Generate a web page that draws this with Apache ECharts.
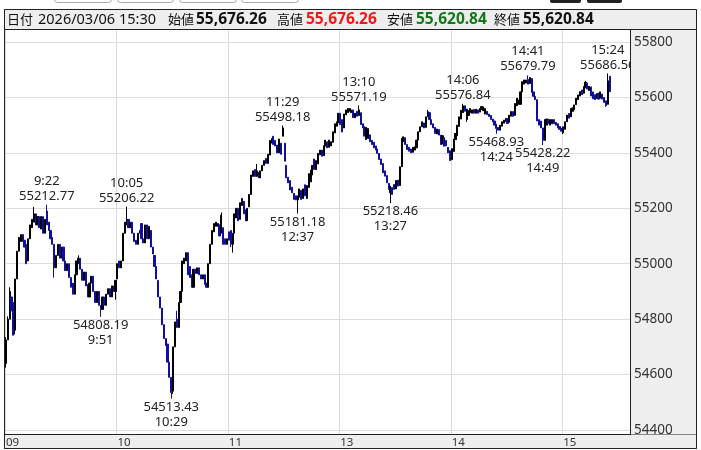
<html lang="ja">

<head>
  <meta charset="utf-8">
  <title>Nikkei 1min</title>
  <style>
    html, body { margin: 0; padding: 0; background: #fff; }
    #chart { width: 701px; height: 450px; }
  </style>
</head>

<body>
  <div id="chart"></div>
</body>

<script src="https://cdn.jsdelivr.net/npm/echarts@6/dist/echarts.min.js"></script>

<script>

  var FONT = '"Noto Sans", "Noto Sans CJK JP", sans-serif';
  var tradeDate = '2026/03/06';

  // 1 minute bars: 9:00-11:29, 12:30-15:24, closing bar 15:30
  var opens = [
    54640, 54725, 54800, 54880, 54860, 54760, 54945, 55045, 55080, 55105,
    55085, 55070, 55010, 55090, 55130, 55150, 55180, 55140, 55170, 55125,
    55170, 55110, 55190, 55150, 55120, 55095, 55070, 54985, 55030, 55070,
    55020, 55060, 55010, 54975, 55000, 54950, 54930, 54890, 54960, 55000,
    55020, 54980, 54940, 54970, 54925, 54880, 54930, 54955, 54900, 54860,
    54900, 54850, 54835, 54880, 54850, 54890, 54910, 54880, 54920, 54900,
    54945, 55010, 54985, 55010, 55110, 55140, 55160, 55130, 55150, 55110,
    55085, 55070, 55110, 55145, 55090, 55075, 55140, 55090, 55120, 55060,
    55030, 54990, 54940, 54880, 54840, 54780, 54730, 54710, 54645, 54590,
    54540, 54700, 54800, 54770, 54860, 54900, 55000, 55010, 55040, 54990,
    54960, 54915, 54980, 54965, 54985, 54960, 54945, 54960, 54930, 54915,
    55000, 55070, 55115, 55135, 55135, 55140, 55110, 55130, 55090, 55070,
    55115, 55120, 55070, 55110, 55165, 55200, 55160, 55210, 55225, 55195,
    55155, 55205, 55250, 55315, 55340, 55315, 55330, 55310, 55335, 55355,
    55380, 55362, 55392, 55435, 55460, 55445, 55428, 55400, 55435, 55460,
    55435, 55355, 55312, 55300, 55276, 55254, 55245, 55230, 55240, 55265,
    55235, 55285, 55235, 55275, 55295, 55320, 55378, 55340, 55360, 55393,
    55410, 55390, 55424, 55440, 55420, 55425, 55438, 55472, 55496, 55508,
    55543, 55520, 55490, 55537, 55545, 55550, 55545, 55555, 55527, 55550,
    55535, 55545, 55505, 55495, 55448, 55452, 55465, 55445, 55438, 55425,
    55414, 55398, 55378, 55362, 55335, 55318, 55290, 55256, 55275, 55286,
    55270, 55302, 55282, 55350, 55440, 55455, 55430, 55420, 55414, 55402,
    55410, 55418, 55446, 55476, 55494, 55508, 55492, 55530, 55545, 55520,
    55505, 55492, 55468, 55484, 55464, 55432, 55455, 55445, 55420, 55408,
    55375, 55405, 55448, 55462, 55495, 55522, 55545, 55570, 55520, 55535,
    55545, 55543, 55557, 55543, 55555, 55547, 55556, 55552, 55540, 55550,
    55540, 55535, 55522, 55515, 55504, 55492, 55482, 55496, 55507, 55513,
    55524, 55510, 55532, 55549, 55535, 55570, 55575, 55575, 55620, 55648,
    55652, 55665, 55650, 55668, 55620, 55604, 55592, 55520, 55515, 55490,
    55445, 55500, 55522, 55500, 55505, 55520, 55510, 55505, 55495, 55490,
    55472, 55485, 55512, 55542, 55530, 55550, 55556, 55574, 55592, 55605,
    55627, 55615, 55635, 55652, 55625, 55638, 55620, 55610, 55596, 55615,
    55597, 55612, 55600, 55588, 55575, 55676.26
  ];

  var closes = [
    54725, 54800, 54900, 54830, 54742, 54945, 55045, 55095, 55105, 55080,
    55060, 55000, 55090, 55140, 55160, 55180, 55140, 55170, 55130, 55170,
    55110, 55160, 55140, 55120, 55090, 55070, 54985, 55030, 55070, 55020,
    55060, 55010, 54975, 55000, 54950, 54915, 54890, 54960, 55010, 55020,
    54980, 54940, 54970, 54920, 54880, 54930, 54955, 54900, 54860, 54900,
    54850, 54835, 54880, 54850, 54890, 54910, 54880, 54920, 54900, 54940,
    55000, 54985, 55010, 55110, 55150, 55160, 55130, 55150, 55110, 55080,
    55070, 55110, 55120, 55090, 55075, 55140, 55090, 55135, 55060, 55035,
    54990, 54945, 54880, 54840, 54780, 54730, 54705, 54645, 54590, 54535,
    54700, 54790, 54770, 54860, 54900, 55010, 55020, 55040, 54960, 54950,
    54915, 54980, 54965, 54985, 54960, 54945, 54960, 54925, 54915, 55000,
    55070, 55120, 55145, 55150, 55145, 55100, 55175, 55070, 55070, 55090,
    55085, 55070, 55110, 55180, 55200, 55155, 55220, 55235, 55180, 55155,
    55200, 55250, 55320, 55335, 55315, 55335, 55310, 55335, 55355, 55372,
    55362, 55395, 55445, 55452, 55430, 55425, 55400, 55450, 55395, 55490,
    55370, 55310, 55292, 55266, 55256, 55232, 55230, 55245, 55270, 55232,
    55270, 55245, 55282, 55325, 55338, 55355, 55340, 55372, 55398, 55410,
    55388, 55426, 55446, 55418, 55446, 55440, 55476, 55505, 55512, 55543,
    55502, 55475, 55540, 55555, 55560, 55560, 55555, 55527, 55543, 55532,
    55555, 55502, 55490, 55460, 55492, 55488, 55440, 55430, 55418, 55410,
    55398, 55376, 55358, 55328, 55316, 55292, 55268, 55280, 55250, 55268,
    55300, 55280, 55350, 55452, 55458, 55430, 55412, 55406, 55400, 55420,
    55422, 55446, 55476, 55494, 55512, 55490, 55530, 55548, 55520, 55502,
    55490, 55470, 55486, 55464, 55430, 55462, 55424, 55425, 55400, 55372,
    55415, 55450, 55470, 55500, 55530, 55554, 55570, 55550, 55558, 55552,
    55560, 55555, 55543, 55557, 55543, 55560, 55567, 55566, 55560, 55538,
    55531, 55520, 55512, 55500, 55488, 55482, 55500, 55512, 55518, 55524,
    55506, 55536, 55549, 55532, 55578, 55597, 55591, 55620, 55657, 55663,
    55663, 55648, 55672, 55618, 55604, 55592, 55515, 55500, 55490, 55445,
    55520, 55522, 55505, 55520, 55520, 55505, 55500, 55490, 55485, 55478,
    55494, 55512, 55536, 55525, 55560, 55562, 55573, 55597, 55609, 55621,
    55610, 55639, 55655, 55630, 55640, 55605, 55595, 55592, 55614, 55594,
    55620, 55594, 55582, 55570, 55660, 55620.84
  ];

  // visible wicks only (bar index -> price); other bars show no wick
  var wickLows = {
    0: 54625, 5: 54745, 26: 54950, 51: 54808.19, 59: 54870, 89: 54513.43,
    90: 54530, 121: 55060, 122: 55040, 157: 55181.18, 207: 55218.46,
    248: 55512, 264: 55468.93, 289: 55428.22, 300: 55468, 323: 55566
  };
  var wickHighs = {
    0: 54735, 1: 54810, 2: 54915, 15: 55205, 22: 55212.77, 39: 55030,
    65: 55206.22, 92: 54830, 116: 55185, 135: 55360, 149: 55498.18,
    190: 55571.19, 227: 55555, 246: 55576.84, 281: 55679.79, 312: 55660,
    324: 55686.56, 325: 55676.26
  };

  // high / low notes
  var noteTimes = ['9:22', '9:51', '10:05', '10:29', '11:29', '12:37', '13:10',
    '13:27', '14:06', '14:24', '14:41', '14:49', '15:24'];
  var noteValues = [55212.77, 54808.19, 55206.22, 54513.43, 55498.18, 55181.18,
    55571.19, 55218.46, 55576.84, 55468.93, 55679.79, 55428.22, 55686.56];
  var noteKinds = ['high', 'low', 'high', 'low', 'high', 'low', 'high', 'low',
    'high', 'low', 'high', 'low', 'high'];

  var hourLabels = { '9:00': '09', '10:00': '10', '11:00': '11', '13:00': '13', '14:00': '14', '15:00': '15' };
  var yTicks = { min: 54400, max: 55800, step: 200 };

  // session minutes
  var times = [];
  function addSession(h0, m0, h1, m1) {
    for (var t = h0 * 60 + m0; t <= h1 * 60 + m1; t++) {
      var m = t % 60;
      times.push(Math.floor(t / 60) + ':' + (m < 10 ? '0' + m : m));
    }
  }
  addSession(9, 0, 11, 29);
  addSession(12, 30, 15, 24);
  times.push('15:30');

  var candles = opens.map(function (o, i) {
    var c = closes[i];
    var lo = wickLows[i] !== undefined ? wickLows[i] : Math.min(o, c);
    var hi = wickHighs[i] !== undefined ? wickHighs[i] : Math.max(o, c);
    return [o, c, lo, hi];
  });

  var notes = noteTimes.map(function (t, i) {
    var v = noteValues[i].toFixed(2);
    var high = noteKinds[i] === 'high';
    return {
      coord: [t, noteValues[i]],
      label: { position: high ? 'top' : 'bottom', formatter: high ? t + '\n' + v : v + '\n' + t }
    };
  });

  function fmt(n) {
    return n.toLocaleString('en-US', { minimumFractionDigits: 2, maximumFractionDigits: 2 });
  }
  var last = candles[candles.length - 1];
  var header = [
    { text: '日付', x: 7, kind: 'tag' },
    { text: tradeDate + ' ' + times[times.length - 1], x: 38 },
    { text: '始値', x: 168, kind: 'tag' },
    { text: fmt(last[0]), x: 196, kind: 'num' },
    { text: '高値', x: 277, kind: 'tag' },
    { text: fmt(last[3]), x: 306, kind: 'num', color: '#f01818' },
    { text: '安値', x: 387, kind: 'tag' },
    { text: fmt(last[2]), x: 416, kind: 'num', color: '#14781a' },
    { text: '終値', x: 494, kind: 'tag' },
    { text: fmt(last[1]), x: 523, kind: 'num' }
  ];
  var headerFont = {
    tag: '13px ' + FONT,
    num: 'bold 15.5px ' + FONT,
    plain: '14.5px ' + FONT
  };

  var isHour = function (index, value) { return hourLabels[value] !== undefined; };
  var gridColor = '#dcdcdc';

  var graphics = [
    // top buttons (cut off)
    { type: 'rect', shape: { x: 54.5, y: -9, width: 57, height: 11.5, r: 3 }, style: { fill: '#fff', stroke: '#aaa' } },
    { type: 'rect', shape: { x: 117.5, y: -9, width: 56, height: 11.5, r: 3 }, style: { fill: '#fff', stroke: '#aaa' } },
    { type: 'rect', shape: { x: 179.5, y: -9, width: 57, height: 11.5, r: 3 }, style: { fill: '#fff', stroke: '#aaa' } },
    { type: 'rect', shape: { x: 241.5, y: -9, width: 57, height: 11.5, r: 3 }, style: { fill: '#fff', stroke: '#aaa' } },
    { type: 'rect', shape: { x: 550, y: -9, width: 31, height: 12, r: 2 }, style: { fill: '#222' } },
    { type: 'rect', shape: { x: 587, y: -9, width: 35, height: 12, r: 2 }, style: { fill: '#222' } },
    // header bar
    { type: 'rect', z: 50, shape: { x: 4.5, y: 9.5, width: 692, height: 20 }, style: { fill: '#eeeeee', stroke: '#222' } },
    // right price panel
    { type: 'rect', z: 50, shape: { x: 631, y: 30, width: 65.5, height: 404.5 }, style: { fill: '#eeeeee' } },
    { type: 'line', z: 51, shape: { x1: 630.5, y1: 29.5, x2: 630.5, y2: 434.5 }, style: { stroke: '#222' } },
    // bottom time bar
    { type: 'rect', z: -5, shape: { x: 4.5, y: 434.5, width: 692, height: 14 }, style: { fill: '#eeeeee', stroke: '#222' } },
    // outer frame
    { type: 'line', z: 51, shape: { x1: 4.5, y1: 9.5, x2: 4.5, y2: 448.5 }, style: { stroke: '#222' } },
    { type: 'line', z: 51, shape: { x1: 696.5, y1: 9.5, x2: 696.5, y2: 448.5 }, style: { stroke: '#222' } }
  ];
  header.forEach(function (h) {
    graphics.push({
      type: 'text', z: 52,
      style: {
        text: h.text, x: h.x, y: 20, verticalAlign: 'middle',
        fill: h.color || '#111',
        font: headerFont[h.kind || 'plain']
      }
    });
  });

  var chart = echarts.init(document.getElementById('chart'));

  option = {
    animation: false,
    backgroundColor: '#fff',
    textStyle: { fontFamily: FONT },
    grid: [
      { left: 5, right: 70, top: 30, bottom: 16 },
      { left: 5, right: 70, top: 42, bottom: 20 }
    ],
    xAxis: [{
      gridIndex: 0,
      type: 'category',
      data: times,
      max: 336,
      boundaryGap: true,
      axisLine: { show: false },
      axisTick: { show: false },
      splitLine: { show: true, interval: isHour, lineStyle: { color: gridColor, width: 1 } },
      axisLabel: {
        interval: isHour,
        formatter: function (v) { return hourLabels[v] || ''; },
        align: 'left',
        margin: 3,
        fontSize: 11.5,
        color: '#333',
        fontFamily: FONT
      }
    }, {
      gridIndex: 1,
      type: 'category',
      data: times,
      max: 336,
      boundaryGap: true,
      show: false
    }],
    yAxis: [{
      gridIndex: 1,
      type: 'value',
      position: 'right',
      min: yTicks.min,
      max: yTicks.max,
      interval: yTicks.step,
      axisLine: { show: false },
      axisTick: { show: false },
      axisLabel: { show: false },
      splitLine: { lineStyle: { color: gridColor, width: 1 } }
    }, {
      gridIndex: 1,
      type: 'value',
      position: 'right',
      z: 60,
      min: yTicks.min,
      max: yTicks.max,
      interval: yTicks.step,
      axisLine: { show: false },
      axisTick: { show: false },
      splitLine: { show: false },
      axisLabel: {
        margin: 3,
        fontSize: 13.5,
        color: '#333',
        fontFamily: FONT,
        padding: [3, 0, 0, 0],
        formatter: function (v) { return String(v); }
      }
    }, {
      gridIndex: 0,
      type: 'value',
      show: false
    }],
    series: [{
      type: 'candlestick',
      xAxisIndex: 1,
      yAxisIndex: 0,
      data: candles,
      barWidth: 1.6,
      itemStyle: {
        color: '#000000',
        color0: '#1010a0',
        borderColor: '#000000',
        borderColor0: '#1010a0',
        borderWidth: 1
      },
      markPoint: {
        symbol: 'circle',
        symbolSize: 0.1,
        itemStyle: { color: 'rgba(0,0,0,0)' },
        label: {
          show: true,
          distance: 1,
          color: '#222',
          fontSize: 13,
          lineHeight: 15,
          fontFamily: FONT
        },
        data: notes
      }
    }],
    graphic: { elements: graphics }
  };
  chart.setOption(option = option);

</script>

</html>
